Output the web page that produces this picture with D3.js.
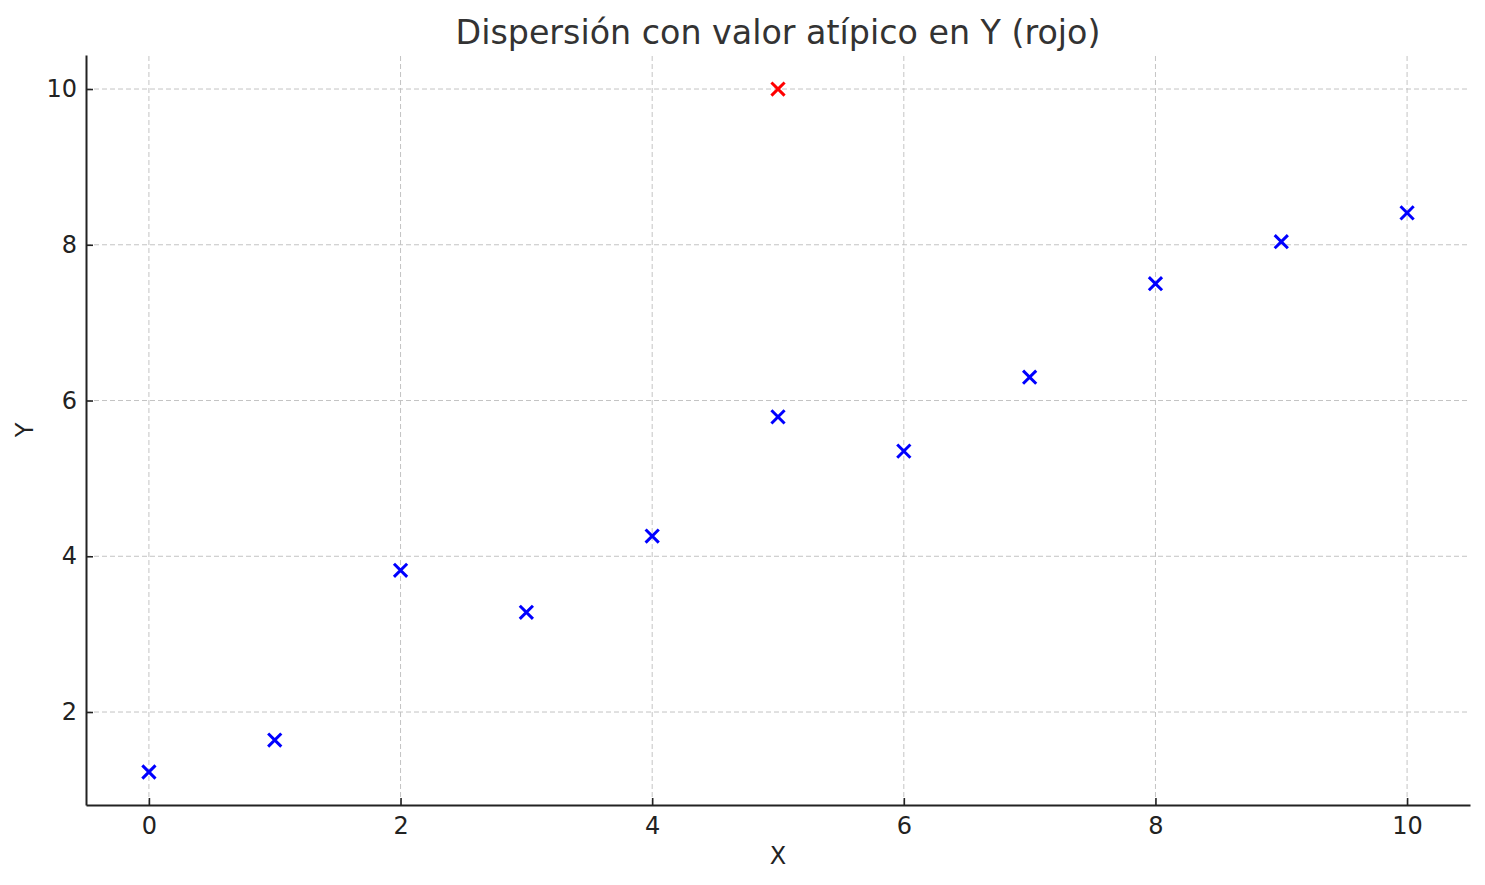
<!DOCTYPE html>
<html lang="es">
<head>
    <meta charset="UTF-8">
    <title>Dispersión con valor atípico en Y</title>
    <script src="https://cdnjs.cloudflare.com/ajax/libs/d3/7.8.5/d3.min.js"></script>
    <style>
        body { margin: 0; background: #fff; }
        svg { display: block; font-family: "DejaVu Sans", sans-serif; }
    </style>
</head>
<body>
<svg id="chart" width="1485" height="885"></svg>

<script>
    // Datos
    const xValues = [0, 1, 2, 3, 4, 5, 6, 7, 8, 9, 10];
    const yValues = [1.23, 1.64, 3.82, 3.28, 4.26, 5.79, 5.35, 6.30, 7.50, 8.04, 8.41];
    const outlier = { x: 5, y: 10 };
    const xTicks = [0, 2, 4, 6, 8, 10];
    const yTicks = [2, 4, 6, 8, 10];

    const width = 1485, height = 885;
    const margin = { top: 55, right: 15, bottom: 80, left: 86 };

    const svg = d3.select("#chart");

    const x = d3.scaleLinear()
        .domain([-0.5, 10.5])
        .range([margin.left, width - margin.right]);

    const y = d3.scaleLinear()
        .domain([0.806, 10.437])
        .range([height - margin.bottom, margin.top]);

    // Rejilla
    const grid = svg.append("g").attr("class", "grid")
        .attr("stroke", "#c4c4c4")
        .attr("stroke-width", 1)
        .attr("stroke-dasharray", "5,3");

    grid.selectAll("line.v")
        .data(xTicks)
        .enter().append("line")
        .attr("class", "v")
        .attr("x1", d => x(d)).attr("x2", d => x(d))
        .attr("y1", y.range()[0]).attr("y2", y.range()[1]);

    grid.selectAll("line.h")
        .data(yTicks)
        .enter().append("line")
        .attr("class", "h")
        .attr("y1", d => y(d)).attr("y2", d => y(d))
        .attr("x1", x.range()[0]).attr("x2", x.range()[1]);

    // Ejes (ticks hacia dentro)
    const xAxis = d3.axisBottom(x).tickValues(xTicks).tickSizeInner(-7).tickSizeOuter(0).tickPadding(12);
    const yAxis = d3.axisLeft(y).tickValues(yTicks).tickSizeInner(-7).tickSizeOuter(0).tickPadding(9);

    const gx = svg.append("g")
        .attr("transform", `translate(0,${height - margin.bottom})`)
        .call(xAxis);
    const gy = svg.append("g")
        .attr("transform", `translate(${margin.left},0)`)
        .call(yAxis);

    [gx, gy].forEach(g => {
        g.select(".domain").attr("stroke", "#222").attr("stroke-width", 2);
        g.selectAll(".tick line").attr("stroke", "#222").attr("stroke-width", 1.6);
        g.selectAll(".tick text")
            .attr("fill", "#222")
            .style("font-size", "24px")
            .style("font-family", "DejaVu Sans, sans-serif");
    });

    // Marcadores en forma de "x"
    const cross = d3.symbol().type(d3.symbolX).size(115);

    const points = xValues.map((v, i) => ({ x: v, y: yValues[i] }));

    svg.append("g")
        .selectAll("path")
        .data(points)
        .enter().append("path")
        .attr("d", cross)
        .attr("transform", d => `translate(${x(d.x)},${y(d.y)})`)
        .attr("stroke", "#0000ff")
        .attr("stroke-width", 3)
        .attr("fill", "none");

    svg.append("path")
        .attr("d", cross)
        .attr("transform", `translate(${x(outlier.x)},${y(outlier.y)})`)
        .attr("stroke", "#ff0000")
        .attr("stroke-width", 3)
        .attr("fill", "none");

    // Títulos
    const cx = (x.range()[0] + x.range()[1]) / 2;

    svg.append("text")
        .attr("x", cx)
        .attr("y", 44)
        .attr("text-anchor", "middle")
        .attr("fill", "#333")
        .style("font-size", "33.3px")
        .text("Dispersión con valor atípico en Y (rojo)");

    svg.append("text")
        .attr("x", cx)
        .attr("y", 864)
        .attr("text-anchor", "middle")
        .attr("fill", "#222")
        .style("font-size", "24px")
        .text("X");

    svg.append("text")
        .attr("transform", `translate(33,${(y.range()[0] + y.range()[1]) / 2}) rotate(-90)`)
        .attr("text-anchor", "middle")
        .attr("fill", "#222")
        .style("font-size", "24px")
        .text("Y");
</script>
</body>
</html>
